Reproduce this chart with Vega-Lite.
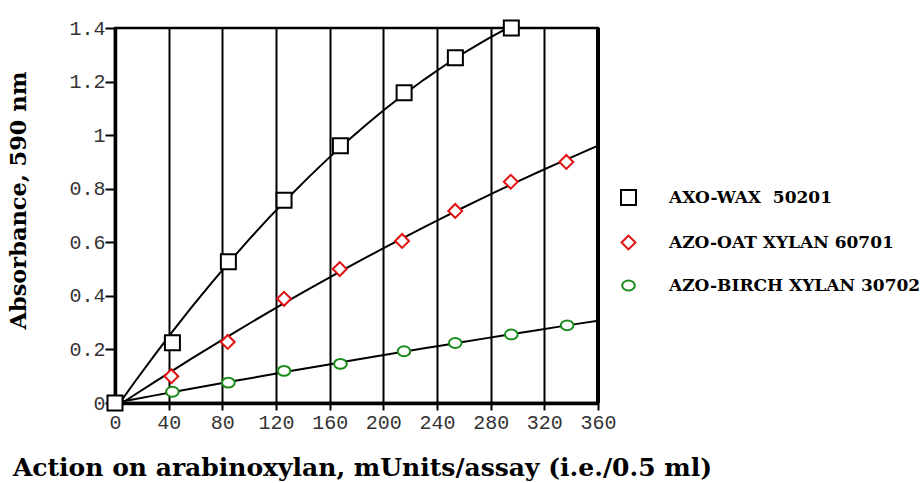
{
  "$schema": "https://vega.github.io/schema/vega-lite/v6.json",
  "width": 483,
  "height": 375,
  "autosize": "none",
  "padding": {"left": 115, "top": 28, "right": 324, "bottom": 80},
  "background": "white",
  "config": {
    "view": {"stroke": "black", "strokeWidth": 2.5},
    "axis": {
      "labelFont": "Liberation Mono",
      "labelFontSize": 20,
      "labelColor": "#333333",
      "labelOverlap": false,
      "labelFlush": false,
      "titleFont": "DejaVu Serif",
      "titleFontWeight": "bold",
      "titleColor": "black",
      "domainColor": "black",
      "domainWidth": 3.5,
      "tickColor": "black",
      "tickWidth": 2
    },
    "legend": {
      "labelFont": "DejaVu Serif",
      "labelFontWeight": "bold",
      "labelFontSize": 17,
      "labelColor": "black",
      "labelLimit": 400
    }
  },
  "data": {
    "values": [
      {"series": "AZO-BIRCH XYLAN 30702", "x": 0, "y": 0},
      {"series": "AZO-BIRCH XYLAN 30702", "x": 42.8, "y": 0.042},
      {"series": "AZO-BIRCH XYLAN 30702", "x": 84.5, "y": 0.076},
      {"series": "AZO-BIRCH XYLAN 30702", "x": 126, "y": 0.12},
      {"series": "AZO-BIRCH XYLAN 30702", "x": 168, "y": 0.146},
      {"series": "AZO-BIRCH XYLAN 30702", "x": 215.4, "y": 0.193},
      {"series": "AZO-BIRCH XYLAN 30702", "x": 253.6, "y": 0.224},
      {"series": "AZO-BIRCH XYLAN 30702", "x": 295.4, "y": 0.256},
      {"series": "AZO-BIRCH XYLAN 30702", "x": 337, "y": 0.29},
      {"series": "AZO-OAT XYLAN 60701", "x": 0, "y": 0},
      {"series": "AZO-OAT XYLAN 60701", "x": 42, "y": 0.1},
      {"series": "AZO-OAT XYLAN 60701", "x": 84, "y": 0.228},
      {"series": "AZO-OAT XYLAN 60701", "x": 126, "y": 0.389},
      {"series": "AZO-OAT XYLAN 60701", "x": 167.5, "y": 0.5},
      {"series": "AZO-OAT XYLAN 60701", "x": 214, "y": 0.605},
      {"series": "AZO-OAT XYLAN 60701", "x": 253.6, "y": 0.717},
      {"series": "AZO-OAT XYLAN 60701", "x": 295, "y": 0.826},
      {"series": "AZO-OAT XYLAN 60701", "x": 336.4, "y": 0.9},
      {"series": "AXO-WAX\u00a0 50201", "x": 0, "y": 0},
      {"series": "AXO-WAX\u00a0 50201", "x": 42.8, "y": 0.225},
      {"series": "AXO-WAX\u00a0 50201", "x": 84.5, "y": 0.527},
      {"series": "AXO-WAX\u00a0 50201", "x": 126, "y": 0.757},
      {"series": "AXO-WAX\u00a0 50201", "x": 168, "y": 0.96},
      {"series": "AXO-WAX\u00a0 50201", "x": 215.5, "y": 1.158},
      {"series": "AXO-WAX\u00a0 50201", "x": 253.7, "y": 1.289},
      {"series": "AXO-WAX\u00a0 50201", "x": 295.4, "y": 1.4}
    ]
  },
  "layer": [
    {
      "transform": [
        {"regression": "y", "on": "x", "groupby": ["series"], "method": "poly", "order": 2, "extent": [0, 360]}
      ],
      "mark": {"type": "line", "color": "black", "strokeWidth": 2, "clip": true},
      "encoding": {
        "x": {"field": "x", "type": "quantitative"},
        "y": {"field": "y", "type": "quantitative"},
        "detail": {"field": "series"}
      }
    },
    {
      "mark": {"type": "point", "filled": false, "fill": "white", "strokeWidth": 2, "opacity": 1},
      "encoding": {
        "x": {
          "field": "x", "type": "quantitative",
          "scale": {"domain": [0, 360], "nice": false},
          "axis": {
            "values": [0, 40, 80, 120, 160, 200, 240, 280, 320, 360],
            "grid": true, "gridColor": "black", "gridWidth": 2, "gridOpacity": 1,
            "tickSize": 7, "labelPadding": 2,
            "title": "Action on arabinoxylan, mUnits/assay (i.e./0.5 ml)",
            "titleFontSize": 25,
            "titleX": 247, "titleY": 52, "titleBaseline": "top", "titleAnchor": "middle"
          }
        },
        "y": {
          "field": "y", "type": "quantitative",
          "scale": {"domain": [0, 1.4], "nice": false},
          "axis": {
            "values": [0, 0.2, 0.4, 0.6, 0.8, 1, 1.2, 1.4],
            "format": "~g",
            "grid": false,
            "tickSize": 10, "labelPadding": 0,
            "title": "Absorbance, 590 nm",
            "titleFontSize": 22.5,
            "titleX": -85, "titleY": 172, "titleAngle": -90, "titleAnchor": "middle"
          }
        },
        "shape": {
          "field": "series", "type": "nominal",
          "scale": {
            "domain": ["AXO-WAX\u00a0 50201", "AZO-OAT XYLAN 60701", "AZO-BIRCH XYLAN 30702"],
            "range": ["square", "diamond", "M-1,0A1,0.78 0 1,1 1,0A1,0.78 0 1,1 -1,0Z"]
          },
          "legend": {
            "title": null, "orient": "none", "legendX": 505, "legendY": 161,
            "padding": 0, "rowPadding": 22, "labelOffset": 32,
            "symbolStrokeWidth": 2, "symbolFillColor": "white"
          }
        },
        "color": {
          "field": "series", "type": "nominal",
          "scale": {
            "domain": ["AXO-WAX\u00a0 50201", "AZO-OAT XYLAN 60701", "AZO-BIRCH XYLAN 30702"],
            "range": ["black", "#e01010", "#1a8c1a"]
          },
          "legend": {
            "title": null, "orient": "none", "legendX": 505, "legendY": 161,
            "padding": 0, "rowPadding": 22, "labelOffset": 32,
            "symbolStrokeWidth": 2, "symbolFillColor": "white"
          }
        },
        "size": {
          "field": "series", "type": "nominal",
          "scale": {
            "domain": ["AXO-WAX\u00a0 50201", "AZO-OAT XYLAN 60701", "AZO-BIRCH XYLAN 30702"],
            "range": [225, 160, 190]
          },
          "legend": {
            "title": null, "orient": "none", "legendX": 505, "legendY": 161,
            "padding": 0, "rowPadding": 22, "labelOffset": 32,
            "symbolStrokeWidth": 2, "symbolFillColor": "white"
          }
        }
      }
    },
    {
      "mark": {"type": "rule", "color": "black", "strokeWidth": 3.5},
      "encoding": {
        "x": {"datum": 360, "type": "quantitative"}
      }
    }
  ]
}
